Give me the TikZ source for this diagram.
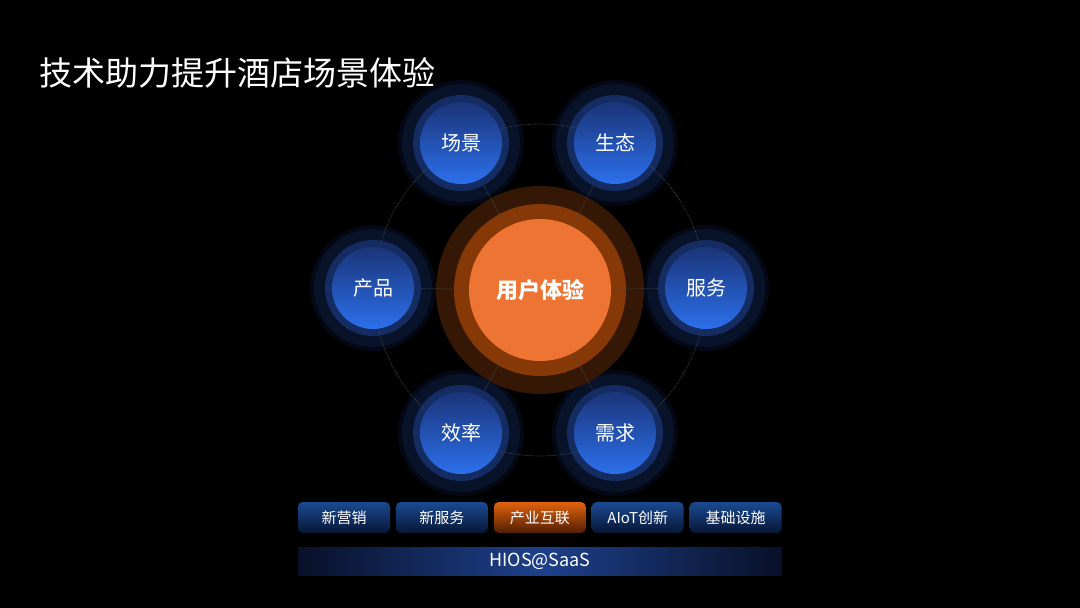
\documentclass[tikz,border=0pt]{standalone}
\usepackage{fontspec}
\setmainfont{Noto Sans CJK SC}
\usetikzlibrary{positioning}
\definecolor{bgBlack}{RGB}{0,0,0}
\definecolor{haloBlue}{RGB}{4,8,20}
\definecolor{glowBlue}{RGB}{8,18,40}
\definecolor{ringBlue}{RGB}{20,44,98}
\definecolor{topBlue}{RGB}{26,52,120}
\definecolor{botBlue}{RGB}{44,112,236}
\definecolor{coreOrange}{RGB}{238,116,51}
\definecolor{ringOrange}{RGB}{134,56,6}
\definecolor{glowOrange}{RGB}{52,23,4}
\definecolor{dotGrey}{RGB}{75,75,75}
\definecolor{tabTop}{RGB}{26,74,146}
\definecolor{tabBot}{RGB}{8,22,54}
\definecolor{hotTop}{RGB}{226,98,14}
\definecolor{hotBot}{RGB}{80,30,4}
\definecolor{barBlue}{RGB}{30,64,140}
\definecolor{barDark}{RGB}{8,16,40}

\tikzset{
  sat/.style={circle, minimum size=82pt, inner sep=0pt, top color=topBlue,
    bottom color=botBlue, text=white, font=\fontsize{20}{20}\selectfont},
  core/.style={circle, minimum size=142pt, inner sep=0pt, fill=coreOrange,
    text=white, font=\bfseries\fontsize{22}{22}\selectfont},
  tab/.style={rounded corners=5pt, minimum width=92pt, minimum height=31pt,
    inner sep=0pt, top color=tabTop, bottom color=tabBot, text=white,
    font=\fontsize{15}{15}\selectfont},
  bar/.style={minimum width=484pt, minimum height=28pt, inner sep=0pt,
    left color=barDark, right color=barDark, middle color=barBlue,
    text=white, font=\fontsize{18}{18}\selectfont},
  link/.style={dotGrey, densely dotted, line width=0.7pt}
}

\begin{document}
\begin{tikzpicture}[x=1pt, y=-1pt]
  \fill[bgBlack] (0,0) rectangle (1080,608);
  \useasboundingbox (0,0) rectangle (1080,608);

  % satellite centres
  \coordinate (pScene) at (461,143);
  \coordinate (pEco) at (615,143);
  \coordinate (pProd) at (373,288);
  \coordinate (pServ) at (706,288);
  \coordinate (pEff) at (461,433);
  \coordinate (pNeed) at (615,433);
  \coordinate (pCore) at (540,290);

  % rings behind
  \foreach \p in {pScene,pEco,pProd,pServ,pEff,pNeed}{
    \fill[haloBlue] (\p) circle (63pt);
    \fill[glowBlue] (\p) circle (59pt);
    \fill[ringBlue] (\p) circle (48pt);
  }
  \fill[glowOrange] (pCore) circle (104pt);
  \fill[ringOrange] (pCore) circle (86pt);

  % orbit
  \draw[link] (pCore) circle (166pt);

  \node[core] (user) at (pCore) {用户体验};
  \node[sat] (scene) at (pScene) {场景};
  \node[sat] (eco) at (pEco) {生态};
  \node[sat] (prod) at (pProd) {产品};
  \node[sat] (serv) at (pServ) {服务};
  \node[sat] (eff) at (pEff) {效率};
  \node[sat] (need) at (pNeed) {需求};

  \foreach \s in {scene,eco,prod,serv,eff,need}
    \draw[link, shorten >=7pt] (user) -- (\s);

  \node[anchor=west, text=white, font=\fontsize{33}{33}\selectfont] (title)
    at (36,73) {技术助力提升酒店场景体验};

  % bottom tabs
  \node[tab] (mkt) at (344,517.5) {新营销};
  \node[tab, right=5.5pt of mkt] (svc) {新服务};
  \node[tab, right=5.5pt of svc, top color=hotTop, bottom color=hotBot] (ind) {产业互联};
  \node[tab, right=5.5pt of ind] (aiot) {AIoT创新};
  \node[tab, right=5.5pt of aiot] (infra) {基础设施};

  \node[bar] (hios) at (540,561) {HIOS@SaaS};
\end{tikzpicture}
\end{document}
